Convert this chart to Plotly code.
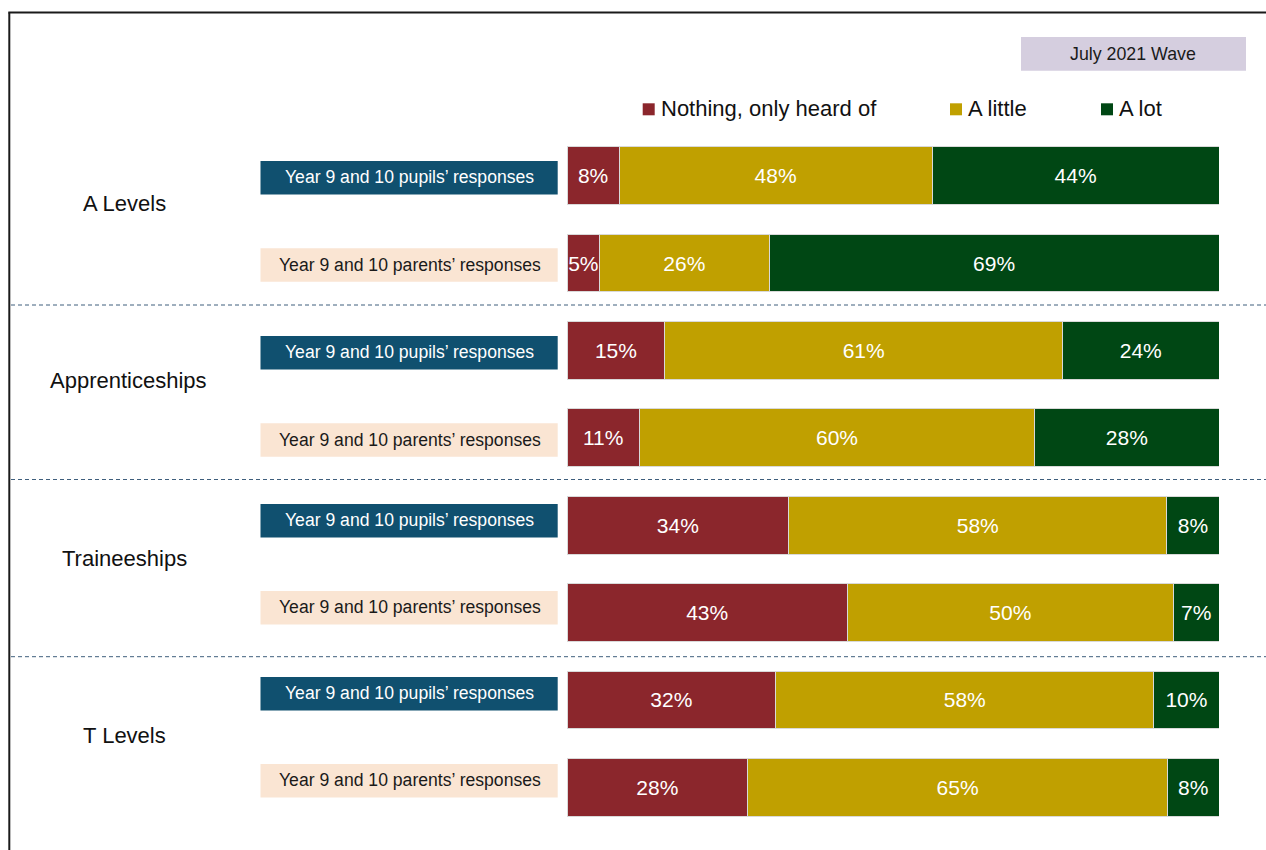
import plotly.graph_objects as go

# ---- data -------------------------------------------------------------
qualifications = ["A Levels", "Apprenticeships", "Traineeships", "T Levels"]
respondents = ["Year 9 and 10 pupils’ responses", "Year 9 and 10 parents’ responses"]

# one entry per bar, top to bottom (pupils then parents for each qualification)
nothing_only_heard = [8, 5, 15, 11, 34, 43, 32, 28]
a_little = [48, 26, 61, 60, 58, 50, 58, 65]
a_lot = [44, 69, 24, 28, 8, 7, 10, 8]

series_names = ["Nothing, only heard of", "A little", "A lot"]
series_colors = ["#8B262C", "#C0A000", "#004714"]
wave_label = "July 2021 Wave"

# ---- page geometry (pixels) ------------------------------------------
W, H = 1266, 850
L, R, T, B = 567, 47, 132, 19
PW, PH = W - L - R, H - T - B


def px_x(px):
    return (px - L) / PW


def px_y(py):
    return (H - B - py) / PH


FONT = "Liberation Sans, Arial, sans-serif"
rows = list(range(len(nothing_only_heard)))

fig = go.Figure()
for name, vals, col in zip(series_names, [nothing_only_heard, a_little, a_lot], series_colors):
    fig.add_trace(go.Bar(
        y=rows, x=vals, name=name, orientation="h",
        marker=dict(color=col, line=dict(color="#D9D9D9", width=1)),
        width=0.66,
        text=[f"{v}%" for v in vals],
        textposition="inside", insidetextanchor="middle", textangle=0,
        textfont=dict(color="white", size=21, family=FONT),
        hoverinfo="skip",
    ))

shapes = []
annotations = []

# frame on the left and top
shapes.append(dict(type="line", xref="paper", yref="paper",
                   x0=px_x(9.3), x1=px_x(9.3), y0=px_y(850), y1=px_y(12.5),
                   line=dict(color="#1A1A1A", width=2)))
shapes.append(dict(type="line", xref="paper", yref="paper",
                   x0=px_x(8.3), x1=px_x(1266), y0=px_y(12.5), y1=px_y(12.5),
                   line=dict(color="#1A1A1A", width=2)))

# dashed separators between qualifications
for py in [305, 479.5, 656.7]:
    shapes.append(dict(type="line", xref="paper", yref="paper",
                       x0=px_x(11), x1=px_x(1266), y0=px_y(py), y1=px_y(py),
                       line=dict(color="#3F5F7D", width=1, dash="4px,3px")))

# respondent label boxes
box_centers = [177.7, 265, 352.8, 440, 520.8, 607.8, 693.8, 780.8]
for i, cy in enumerate(box_centers):
    pupils = i % 2 == 0
    fill = "#10506F" if pupils else "#FAE5D3"
    tcol = "white" if pupils else "#1A1A1A"
    shapes.append(dict(type="rect", xref="paper", yref="paper",
                       x0=px_x(260.5), x1=px_x(557.7),
                       y0=px_y(cy + 16.8), y1=px_y(cy - 16.8),
                       fillcolor=fill, line=dict(width=0), layer="below"))
    annotations.append(dict(xref="paper", yref="paper",
                            x=px_x(409.5), y=px_y(cy - 0.5),
                            text=respondents[i % 2], showarrow=False,
                            xanchor="center", yanchor="middle",
                            font=dict(size=17.6, color=tcol, family=FONT)))

# qualification labels
label_pos = [(124, 203), (128.5, 380.5), (124, 558), (124, 735)]
for name, (cx, cy) in zip(qualifications, label_pos):
    annotations.append(dict(xref="paper", yref="paper", x=px_x(cx), y=px_y(cy),
                            text=name, showarrow=False,
                            xanchor="center", yanchor="middle",
                            font=dict(size=22, color="#111111", family=FONT)))

# wave tag
shapes.append(dict(type="rect", xref="paper", yref="paper",
                   x0=px_x(1021), x1=px_x(1246), y0=px_y(70.7), y1=px_y(37),
                   fillcolor="#D5CEDF", line=dict(width=0)))
annotations.append(dict(xref="paper", yref="paper", x=px_x(1132.5), y=px_y(54.5),
                        text=wave_label, showarrow=False,
                        xanchor="center", yanchor="middle",
                        font=dict(size=17.8, color="#1A1A1A", family=FONT)))

# legend
legend_sq = [642.7, 950, 1101]
for name, col, sx in zip(series_names, series_colors, legend_sq):
    shapes.append(dict(type="rect", xref="paper", yref="paper",
                       x0=px_x(sx), x1=px_x(sx + 12), y0=px_y(115.3), y1=px_y(103.3),
                       fillcolor=col, line=dict(width=0)))
    annotations.append(dict(xref="paper", yref="paper", x=px_x(sx + 16), y=px_y(108.5),
                            text=name, showarrow=False,
                            xanchor="left", yanchor="middle",
                            font=dict(size=22, color="#111111", family=FONT)))

fig.update_layout(
    width=W, height=H,
    margin=dict(l=L, r=R, t=T, b=B, pad=0),
    barmode="stack", barnorm="percent",
    showlegend=False,
    paper_bgcolor="white", plot_bgcolor="white",
    uniformtext=dict(minsize=21, mode="show"),
    xaxis=dict(range=[0, 100], visible=False, fixedrange=True),
    yaxis=dict(range=[7.5, -0.5], visible=False, fixedrange=True),
    shapes=shapes, annotations=annotations,
    font=dict(family=FONT),
)

fig.write_html("out.html", config={"displayModeBar": False})
